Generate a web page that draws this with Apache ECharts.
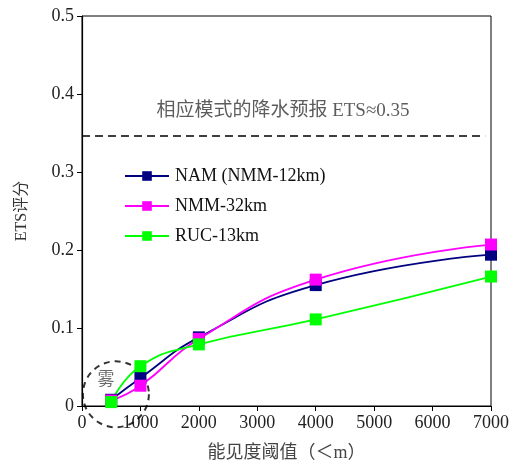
<!DOCTYPE html>
<html><head><meta charset="utf-8">
<script src="https://cdn.jsdelivr.net/npm/echarts@6/dist/echarts.min.js"></script>
<style>html,body{margin:0;padding:0;background:#fff}#c{width:516px;height:467px}</style>
</head><body><div id="c"></div>
<script>
const thresholds = [500, 1000, 2000, 4000, 7000];
const namValues = [0.008, 0.036, 0.088, 0.155, 0.194];
const nmm32Values = [0.007, 0.026, 0.086, 0.162, 0.207];
const rucValues = [0.005, 0.051, 0.079, 0.111, 0.166];
const seriesNames = ['NAM (NMM-12km)', 'NMM-32km', 'RUC-13km'];
const precipEts = 0.346;
const refLineRange = [0, 6900];
const annotationPos = [3440, 0.378];
const fogCenter = [580, 0.015];
const annotationText = '相应模式的降水预报 ETS≈0.35';
const fogText = '雾';

const FONT = '"Liberation Serif", "Noto Sans CJK SC", serif';
const chart = echarts.init(document.getElementById('c'));
const pair = (xs, ys) => xs.map((x, i) => [x, ys[i]]);
const mk = (name, color, vals) => ({
  name, type: 'line', smooth: true, data: pair(thresholds, vals),
  symbol: 'rect', symbolSize: 12,
  lineStyle: { color, width: 1.8 }, itemStyle: { color }, z: 3
});
chart.setOption({
  animation: false,
  textStyle: { fontFamily: FONT },
  grid: { left: 82, right: 25, top: 16, bottom: 59, show: true, borderColor: '#000', borderWidth: 1 },
  legend: {
    orient: 'vertical', left: 119, top: 162, itemWidth: 44, itemHeight: 12, itemGap: 12,
    textStyle: { fontFamily: FONT, fontSize: 18, color: '#111', padding: [0, 0, 0, 1] },
    data: seriesNames
  },
  xAxis: {
    type: 'value', min: 0, max: 7000, interval: 1000,
    name: '能见度阈值（＜m）', nameLocation: 'middle', nameGap: 38,
    nameTextStyle: { fontFamily: FONT, fontSize: 18, color: '#444' },
    axisLine: { lineStyle: { color: '#000', width: 1.2 } },
    axisTick: { show: true, inside: false, length: 5, lineStyle: { color: '#000' } },
    axisLabel: { fontFamily: FONT, fontSize: 18, color: '#222', margin: 8,
      formatter: v => String(v) },
    splitLine: { show: false }
  },
  yAxis: {
    type: 'value', min: 0, max: 0.5, interval: 0.1,
    name: 'ETS评分', nameLocation: 'middle', nameGap: 52, nameRotate: 90,
    nameTextStyle: { fontFamily: FONT, fontSize: 16, color: '#333' },
    axisLine: { show: true, lineStyle: { color: '#000', width: 1.2 } },
    axisTick: { show: true, inside: false, length: 5, lineStyle: { color: '#000' } },
    axisLabel: { fontFamily: FONT, fontSize: 18, color: '#222', margin: 8,
      formatter: v => (v === 0 ? '0' : v.toFixed(1)) },
    splitLine: { show: false }
  },
  series: [
    mk(seriesNames[0], '#000080', namValues),
    mk(seriesNames[1], '#ff00ff', nmm32Values),
    mk(seriesNames[2], '#00ff00', rucValues),
    {
      name: 'ref', type: 'line', data: refLineRange.map(x => [x, precipEts]),
      symbol: 'none', lineStyle: { color: '#000', width: 1.5, type: [8, 5] }, z: 2,
      silent: true
    },
    {
      name: 'annot', type: 'scatter', data: [annotationPos],
      symbolSize: 0, silent: true,
      label: { show: true, position: 'inside', formatter: annotationText,
        fontFamily: FONT, fontSize: 19, color: '#333' }
    },
    {
      name: 'fog', type: 'scatter', data: [fogCenter], symbol: 'circle', symbolSize: 66,
      itemStyle: { color: 'rgba(0,0,0,0)', borderColor: '#000', borderWidth: 2, borderType: [6, 5] },
      z: 1, silent: true,
      label: { show: true, position: 'inside', offset: [-10, -14], formatter: fogText,
        fontFamily: FONT, fontSize: 17, color: '#444' }
    }
  ]
});
</script></body></html>
